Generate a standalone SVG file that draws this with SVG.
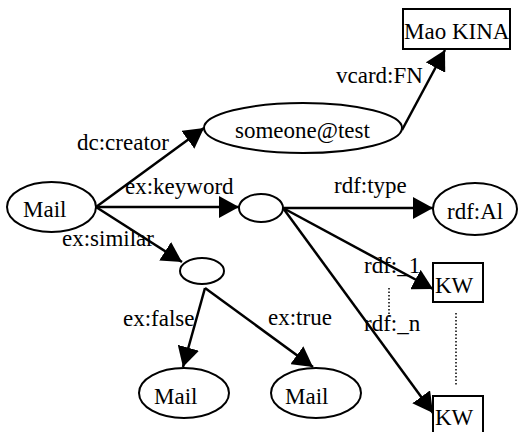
<svg xmlns="http://www.w3.org/2000/svg" width="520" height="432" viewBox="0 0 520 432">
<defs>
<marker id="ah" markerUnits="userSpaceOnUse" markerWidth="20" markerHeight="22" refX="20" refY="11" orient="auto" viewBox="0 0 20 22">
<path d="M0,0 L20,11 L0,22 z" fill="#000"/>
</marker>
</defs>
<rect width="520" height="432" fill="#fff"/>
<g id="connectors" stroke="#000" stroke-width="2.5" fill="none" marker-end="url(#ah)">
<line x1="96" y1="207" x2="204" y2="128"/>
<line x1="96" y1="207" x2="239" y2="207"/>
<line x1="96" y1="207" x2="182" y2="262"/>
<line x1="402" y1="130" x2="445" y2="50"/>
<line x1="283" y1="208" x2="433" y2="208"/>
<line x1="283" y1="208" x2="433" y2="289"/>
<line x1="283" y1="208" x2="433" y2="413"/>
<line x1="205" y1="288" x2="183" y2="367"/>
<line x1="205" y1="288" x2="313" y2="367"/>
</g>
<g id="dotted" stroke="#000" stroke-width="1.5" stroke-dasharray="1.5 2" fill="none">
<line x1="389" y1="288" x2="389" y2="317"/>
<line x1="456" y1="313" x2="456" y2="385"/>
</g>
<g id="labels" fill="#000">
<text x="77" y="150" style="font-family:'Times New Roman',serif;font-size:23px">dc:creator</text>
<text x="125" y="194" style="font-family:'Times New Roman',serif;font-size:23px">ex:keyword</text>
<text x="62" y="246" style="font-family:'Times New Roman',serif;font-size:23px">ex:similar</text>
<text x="336" y="83" style="font-family:'Times New Roman',serif;font-size:23px">vcard:FN</text>
<text x="334" y="193" style="font-family:'Times New Roman',serif;font-size:23px">rdf:type</text>
<text x="364" y="273" style="font-family:'Times New Roman',serif;font-size:23px">rdf:_1</text>
<text x="364" y="331" style="font-family:'Times New Roman',serif;font-size:23px">rdf:_n</text>
<text x="123" y="326" style="font-family:'Times New Roman',serif;font-size:23px">ex:false</text>
<text x="268" y="325" style="font-family:'Times New Roman',serif;font-size:23px">ex:true</text>
</g>
<g id="nodes" fill="#fff" stroke="#000" stroke-width="2">
<g id="mail"><ellipse cx="51.5" cy="207" rx="44.5" ry="25"/><text x="23" y="217" fill="#000" stroke="none" style="font-family:'Times New Roman',serif;font-size:23px">Mail</text></g>
<g id="someone"><ellipse cx="303" cy="128" rx="99" ry="25"/><text x="235" y="138" fill="#000" stroke="none" style="font-family:'Times New Roman',serif;font-size:23px">someone@test</text></g>
<g id="maokina"><rect x="403" y="9" width="107" height="40"/><text x="404" y="39" fill="#000" stroke="none" style="font-family:'Times New Roman',serif;font-size:23px">Mao KINA</text></g>
<g id="blank1"><ellipse cx="261" cy="208" rx="22" ry="14"/></g>
<g id="rdfAl"><ellipse cx="475" cy="209" rx="42" ry="26"/><text x="447" y="219" fill="#000" stroke="none" style="font-family:'Times New Roman',serif;font-size:23px">rdf:Al</text></g>
<g id="blank2"><ellipse cx="202" cy="271" rx="22" ry="13"/></g>
<g id="mail2"><ellipse cx="184" cy="393" rx="45" ry="25"/><text x="154" y="404" fill="#000" stroke="none" style="font-family:'Times New Roman',serif;font-size:23px">Mail</text></g>
<g id="mail3"><ellipse cx="316" cy="393" rx="45" ry="25"/><text x="285" y="404" fill="#000" stroke="none" style="font-family:'Times New Roman',serif;font-size:23px">Mail</text></g>
<g id="kw1"><rect x="433" y="263" width="50" height="39"/><text x="435" y="293" fill="#000" stroke="none" style="font-family:'Times New Roman',serif;font-size:23px">KW</text></g>
<g id="kw2"><rect x="433" y="396" width="50" height="39"/><text x="435" y="425" fill="#000" stroke="none" style="font-family:'Times New Roman',serif;font-size:23px">KW</text></g>
</g>
</svg>
